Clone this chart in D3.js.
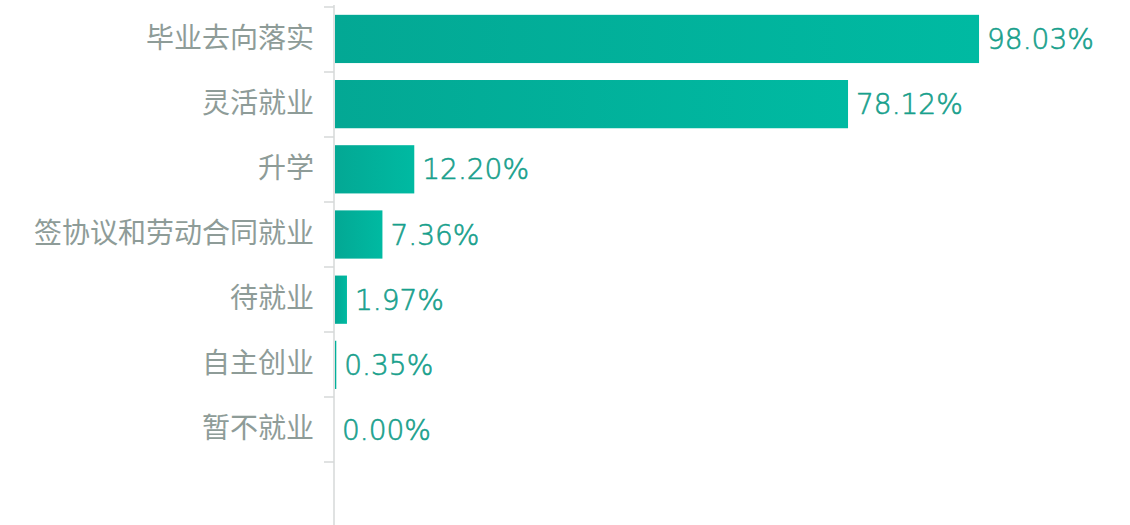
<!DOCTYPE html>
<html>
<head>
<meta charset="utf-8">
<script src="https://cdn.jsdelivr.net/npm/d3@7/dist/d3.min.js"></script>
<style>
  html, body { margin: 0; padding: 0; background: #fff; }
  svg { display: block; }
</style>
</head>
<body>
<svg id="chart" width="1130" height="525"></svg>
<script>
const categories = ["毕业去向落实", "灵活就业", "升学", "签协议和劳动合同就业", "待就业", "自主创业", "暂不就业"];
const values = [98.03, 78.12, 12.20, 7.36, 1.97, 0.35, 0.00];
const valueLabels = ["98.03%", "78.12%", "12.20%", "7.36%", "1.97%", "0.35%", "0.00%"];

const svg = d3.select("#chart");
const axisX = 334;

const x = d3.scaleLinear().domain([0, 100]).range([axisX, axisX + 658]);
const y = d3.scaleBand().domain(categories).range([7, 462]).paddingInner(0.26).paddingOuter(0.12);

const defs = svg.append("defs");
const grad = defs.append("linearGradient").attr("id", "barGrad")
  .attr("x1", "0%").attr("x2", "100%").attr("y1", "0%").attr("y2", "0%");
grad.append("stop").attr("offset", "0%").attr("stop-color", "#03a894");
grad.append("stop").attr("offset", "100%").attr("stop-color", "#00baa2");

const data = categories.map((c, i) => ({ c, v: values[i], label: valueLabels[i] }));

svg.append("g").selectAll("rect").data(data).join("rect")
  .attr("x", x(0) + 1)
  .attr("y", d => y(d.c))
  .attr("width", d => Math.max(0, x(d.v) - x(0) - 1))
  .attr("height", y.bandwidth())
  .attr("fill", "url(#barGrad)");

svg.append("g").selectAll("text").data(data).join("text")
  .attr("x", d => x(d.v) + 8)
  .attr("y", d => y(d.c) + y.bandwidth() / 2)
  .attr("dy", "0.36em")
  .attr("font-family", "DejaVu Sans, sans-serif")
  .attr("font-size", 28)
  .attr("font-weight", 300)
  .attr("fill", "#18a08c")
  .attr("stroke", "#18a08c")
  .attr("stroke-width", 0.6)
  .text(d => d.label);

const yAxis = d3.axisLeft(y.copy().paddingInner(0).paddingOuter(0)).tickSize(0).tickPadding(20);
const gy = svg.append("g").attr("transform", `translate(${axisX},0)`).call(yAxis);
gy.select(".domain").remove();
gy.selectAll("text")
  .attr("font-family", "Noto Sans CJK SC, sans-serif")
  .attr("font-size", 28)
  .attr("fill", "#8e9c98");

// band boundary ticks
const bounds = d3.range(categories.length + 1).map(i => 7 + i * (455 / categories.length));
svg.append("g").selectAll("line").data(bounds).join("line")
  .attr("x1", axisX - 10).attr("x2", axisX)
  .attr("y1", d => d).attr("y2", d => d)
  .attr("stroke", "#d6d9d8").attr("stroke-width", 1.5);

svg.append("line")
  .attr("x1", axisX).attr("x2", axisX)
  .attr("y1", 5).attr("y2", 525)
  .attr("stroke", "#d6d9d8").attr("stroke-width", 1.5);
</script>
</body>
</html>
